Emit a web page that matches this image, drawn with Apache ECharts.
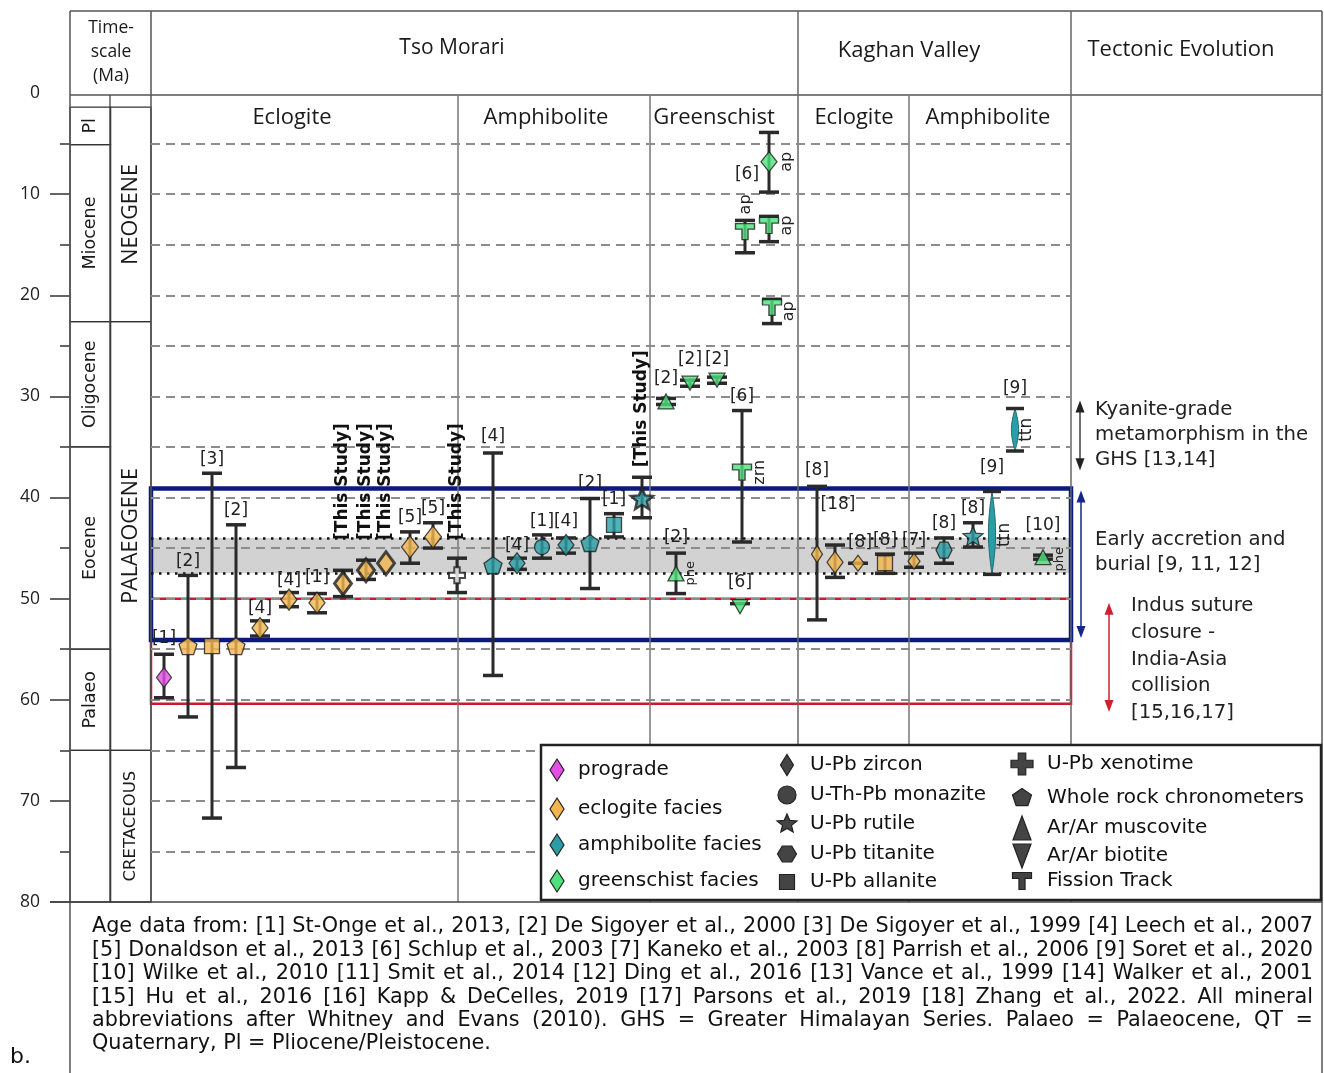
<!DOCTYPE html>
<html><head><meta charset="utf-8">
<script src="https://cdn.jsdelivr.net/npm/echarts@6/dist/echarts.min.js"></script>
<style>html,body{margin:0;padding:0;background:#fff}#c{width:1324px;height:1073px}</style>
</head><body><div id="c"></div>
<script>
// ---------------- DATA ----------------
const ageLabels = [0,10,20,30,40,50,60,70,80];
const majorTicks = [10,20,30,40,50,60,70,80];
const minorTickAges = [5,15,25,35,45,55,65,75];
const gridAges = [5,10,15,20,25,30,35,40,45,50,55,60,65,70,75];
const bandAges = [44, 47.5];          // grey band
const blueBoxAges = [39.1, 54.1];     // early accretion box
const redBoxAges = [50, 60.4];        // Indus suture box
// timescale [start Ma, end Ma, label]
const epochs = [[1.4,5.1,'Pl'],[5.1,22.6,'Miocene'],[22.6,35,'Oligocene'],[35,55,'Eocene'],[55,65,'Palaeo'],[65,80,'']];
const periods = [[1.4,22.6,'NEOGENE'],[22.6,65,'PALAEOGENE'],[65,80,'CRETACEOUS']];
// samples: [slot, age, errMin, errMax, facies, method, ref, mineral note]
const tsoEclogite = [
 [1.3, 57.8, 55.5, 59.8, 'prograde', 'zircon', '[1]'],
 [3.7, 54.7, 47.7, 61.7, 'eclogite', 'wholeRock', '[2]'],
 [6.1, 54.7, 37.6, 71.7, 'eclogite', 'allanite', '[3]'],
 [8.5, 54.7, 42.7, 66.7, 'eclogite', 'wholeRock', '[2]'],
 [10.9, 52.9, 52.2, 53.7, 'eclogite', 'zircon', '[4]'],
 [13.8, 50.1, 49.4, 50.8, 'eclogite', 'zircon', '[4]'],
 [16.6, 50.4, 49.5, 51.4, 'eclogite', 'zircon', '[1]'],
 [19.2, 48.5, 47.2, 49.8, 'eclogite', 'zircon', '[This Study]'],
 [21.5, 47.2, 46.2, 48.1, 'eclogite', 'zircon', '[This Study]'],
 [23.5, 46.5, null, null, 'eclogite', 'zircon', '[This Study]'],
 [25.9, 44.9, 43.4, 46.5, 'eclogite', 'zircon', '[5]'],
 [28.2, 43.9, 42.5, 45.0, 'eclogite', 'zircon', '[5]'],
 [30.6, 47.7, 46.0, 49.4, 'none', 'xenotime', '[This Study]']
];
const tsoAmphibolite = [
 [34.2, 46.7, 35.6, 57.6, 'amphibolite', 'wholeRock', '[4]'],
 [36.6, 46.5, 46.0, 47.1, 'amphibolite', 'zircon', '[4]'],
 [39.1, 44.9, 43.7, 46.0, 'amphibolite', 'monazite', '[1]'],
 [41.5, 44.7, 44.0, 45.5, 'amphibolite', 'zircon', '[4]'],
 [43.9, 44.5, 40.1, 49.0, 'amphibolite', 'wholeRock', '[2]'],
 [46.3, 42.7, 41.6, 43.9, 'amphibolite', 'allanite', '[1]'],
 [49.1, 40.1, 38.0, 42.0, 'amphibolite', 'rutile', '[This Study]']
];
const tsoGreenschist = [
 [51.5, 30.5, 30.2, 30.8, 'greenschist', 'muscovite', '[2]'],
 [53.9, 28.7, 28.4, 29.0, 'greenschist', 'biotite', '[2]'],
 [56.6, 28.4, 28.1, 28.7, 'greenschist', 'biotite', '[2]'],
 [59.1, 37.5, 31.4, 44.4, 'greenschist', 'fissionTrack', '[6]', 'zrn'],
 [52.5, 47.5, 45.5, 49.5, 'greenschist', 'muscovite', '[2]', 'phe'],
 [58.9, 50.8, 50.5, 50.5, 'greenschist', 'biotite', '[6]'],
 [61.8, 6.8, 3.9, 9.8, 'greenschist', 'zircon', '[6]', 'ap'],
 [59.4, 13.7, 12.6, 15.8, 'greenschist', 'fissionTrack', '', 'ap'],
 [61.8, 13.1, 12.2, 14.7, 'greenschist', 'fissionTrack', '', 'ap'],
 [62.1, 21.2, 20.4, 22.8, 'greenschist', 'fissionTrack', '', 'ap']
];
const kaghanEclogite = [
 [66.6, 45.6, 38.9, 52.1, 'eclogite', 'zircon', '[8]'],
 [68.4, 46.4, 44.7, 47.9, 'eclogite', 'zircon', '[18]'],
 [70.7, 46.5, 46.5, 46.5, 'eclogite', 'zircon', '[8]'],
 [73.4, 46.5, 45.6, 47.5, 'eclogite', 'allanite', '[8]']
];
const kaghanAmphibolite = [
 [76.3, 46.3, 45.5, 46.9, 'eclogite', 'zircon', '[7]'],
 [79.3, 45.2, 44.0, 46.5, 'amphibolite', 'titanite', '[8]'],
 [82.2, 43.8, 42.5, 44.9, 'amphibolite', 'rutile', '[8]'],
 [84.1, 43.5, 39.4, 47.6, 'amphibolite', 'titaniteRange', '[9]', 'ttn'],
 [86.4, 33.3, 31.2, 35.4, 'amphibolite', 'titaniteRange', '[9]', 'ttn'],
 [89.2, 45.9, 45.7, 46.1, 'greenschist', 'muscovite', '[10]', 'phe']
];
// tectonic events: [fromMa, toMa, lines]
const tectonicKyanite = [30.4, 37.3, ['Kyanite-grade','metamorphism in the','GHS [13,14]']];
const tectonicAccretion = [39.3, 53.9, ['Early accretion and','burial [9, 11, 12]']];
const tectonicSuture = [50.4, 61.2, ['Indus suture','closure -','India-Asia','collision','[15,16,17]']];
const legendFacies = [['prograde','prograde'],['eclogite facies','eclogite'],['amphibolite facies','amphibolite'],['greenschist facies','greenschist']];
const legendMethodsA = [['U-Pb zircon','zircon'],['U-Th-Pb monazite','monazite'],['U-Pb rutile','rutile'],['U-Pb titanite','titanite'],['U-Pb allanite','allanite']];
const legendMethodsB = [['U-Pb xenotime','xenotime'],['Whole rock chronometers','wholeRock'],['Ar/Ar muscovite','muscovite'],['Ar/Ar biotite','biotite'],['Fission Track','fissionTrack']];
const captionLines = [
 'Age data from: [1] St-Onge et al., 2013, [2] De Sigoyer et al., 2000 [3] De Sigoyer et al., 1999 [4] Leech et al., 2007',
 '[5] Donaldson et al., 2013 [6] Schlup et al., 2003 [7] Kaneko et al., 2003 [8] Parrish et al., 2006 [9] Soret et al., 2020',
 '[10] Wilke et al., 2010 [11] Smit et al., 2014 [12] Ding et al., 2016 [13] Vance et al., 1999 [14] Walker et al., 2001',
 '[15] Hu et al., 2016 [16] Kapp & DeCelles, 2019 [17] Parsons et al., 2019 [18] Zhang et al., 2022. All mineral',
 'abbreviations after Whitney and Evans (2010). GHS = Greater Himalayan Series. Palaeo = Palaeocene, QT =',
 'Quaternary, Pl = Pliocene/Pleistocene.'
];

// ---------------- STYLES ----------------
const faciesColors = {prograde:'#e64ce6', eclogite:'#f2b64d', amphibolite:'#2a9ea6', greenschist:'#4fe27c', none:'#ffffff'};
const methodShape = {zircon:'diamond', monazite:'circle', rutile:'star', titanite:'hexagon', allanite:'square', xenotime:'cross', wholeRock:'pentagon', muscovite:'triUp', biotite:'triDown', fissionTrack:'tee'};
const methodSize = {zircon:[16,21], monazite:[15,15], rutile:[20,19], titanite:[16,16], allanite:[15,15], xenotime:[16,16], wholeRock:[18,17], muscovite:[16,15], biotite:[16,14], fissionTrack:[19,16]};
const markerTweaks = {
 'tsoEclogite:0':{size:[15,20]},
 'tsoEclogite:7':{size:[17,23], border:3}, 'tsoEclogite:8':{size:[17,23], border:3}, 'tsoEclogite:9':{size:[17,23], border:3},
 'tsoEclogite:10':{size:[17,22]}, 'tsoEclogite:11':{size:[17,22]}, 'tsoEclogite:12':{border:2},
 'tsoAmphibolite:6':{size:[22,21], border:2.5},
 'tsoGreenschist:6':{size:[16,20]},
 'kaghanEclogite:0':{size:[11,17]}, 'kaghanEclogite:1':{size:[16,22]}, 'kaghanEclogite:2':{size:[12,16]}, 'kaghanAmphibolite:0':{size:[12,16]}
};
// label tweaks: base 'top' (top cap) or 'point'; dx, dy relative
const labelTweaks = {
 'tsoEclogite:0':{dy:-16}, 'tsoEclogite:4':{dy:-12}, 'tsoEclogite:5':{dy:-12}, 'tsoEclogite:6':{dy:-16},
 'tsoEclogite:7':{bottomAge:44.2}, 'tsoEclogite:8':{bottomAge:44.2}, 'tsoEclogite:9':{bottomAge:44.2}, 'tsoEclogite:12':{bottomAge:44.2},
 'tsoAmphibolite:0':{dy:-16}, 'tsoAmphibolite:1':{dy:-13}, 'tsoAmphibolite:2':{dy:-13}, 'tsoAmphibolite:3':{dy:-16}, 'tsoAmphibolite:4':{dy:-15},
 'tsoAmphibolite:6':{bottomAge:37.0},
 'tsoGreenschist:0':{dy:-20}, 'tsoGreenschist:1':{dy:-21}, 'tsoGreenschist:2':{dy:-18}, 'tsoGreenschist:5':{dy:-21},
 'tsoGreenschist:6':{base:'point', dx:-22, dy:13, noteDx:18},
 'tsoGreenschist:7':{noteBase:'top', noteDx:1, noteDy:-16},
 'tsoGreenschist:9':{noteDx:17, noteDy:4},
 'tsoGreenschist:4':{dy:-16, noteDx:15, noteSize:13},
 'kaghanEclogite:0':{dy:-16}, 'kaghanEclogite:1':{dy:-40, dx:3}, 'kaghanEclogite:2':{base:'point', dy:-21, dx:2},
 'kaghanAmphibolite:0':{dy:-13}, 'kaghanAmphibolite:3':{dy:-24, noteDx:13, noteDy:2}, 'kaghanAmphibolite:4':{dy:-20, noteDx:12},
 'kaghanAmphibolite:5':{dy:-30, noteDx:17, noteDy:2, noteSize:13}
};

// shapes in unit coords
function regular(n, start, r2){
  const pts=[]; const m = r2 ? n*2 : n;
  for(let k=0;k<m;k++){ const a=(start + k*360/m)*Math.PI/180; const r = r2 && (k%2) ? r2 : 1; pts.push([r*Math.cos(a), r*Math.sin(a)]); }
  return pts;
}
const SHAPES = {
  diamond:[[0,-1],[1,0],[0,1],[-1,0]],
  square:[[-1,-1],[1,-1],[1,1],[-1,1]],
  pentagon:regular(5,-90),
  hexagon:regular(6,0),
  star:regular(5,-90,0.45),
  triUp:[[0,-1],[1,1],[-1,1]],
  triDown:[[-1,-1],[1,-1],[0,1]],
  cross:[[-.34,-1],[.34,-1],[.34,-.34],[1,-.34],[1,.34],[.34,.34],[.34,1],[-.34,1],[-.34,.34],[-1,.34],[-1,-.34],[-.34,-.34]],
  tee:[[-1,-1],[1,-1],[1,-.3],[.32,-.3],[.32,1],[-.32,1],[-.32,-.3],[-1,-.3]]
};
function symbolOf(shape){
  if(shape==='circle') return 'circle';
  return 'path://' + SHAPES[shape].map((p,i)=>(i?'L':'M')+(p[0]*50+50).toFixed(2)+','+(p[1]*50+50).toFixed(2)).join(' ') + ' Z';
}

// ---------------- BUILD ----------------
const ALL = [];
[['tsoEclogite',tsoEclogite],['tsoAmphibolite',tsoAmphibolite],['tsoGreenschist',tsoGreenschist],['kaghanEclogite',kaghanEclogite],['kaghanAmphibolite',kaghanAmphibolite]]
 .forEach(([name, arr]) => arr.forEach((row,i) => ALL.push({key:name+':'+i, row})));

const FONT_REF = '17px "DejaVu Sans"';
const FONT_TS = 'bold 17px "DejaVu Sans"';
const INK = '#2a2a2a';

function renderSample(params, api){
  const s = ALL[params.dataIndex];
  const [slot, age, lo, hi, facies, method, ref, note] = s.row;
  const tw = labelTweaks[s.key] || {};
  const p = api.coord([slot, age]);
  const x = p[0], yP = p[1];
  const hasErr = lo != null;
  const yT = hasErr ? api.coord([slot, lo])[1] : yP;
  const yB = hasErr ? api.coord([slot, hi])[1] : yP;
  const ch = [];
  const cap = (y,w) => ({type:'line', shape:{x1:x-w/2, y1:y, x2:x+w/2, y2:y}, style:{stroke:INK, lineWidth:3.5}});
  if (hasErr){
    if (method === 'titaniteRange'){
      const pts = [];
      const N = 16, wHalf = 3.6;
      for(let k=0;k<=N;k++){ const t=k/N; pts.push([x + wHalf*Math.sin(Math.PI*t), yT + (yB-yT)*t]); }
      for(let k=N;k>=0;k--){ const t=k/N; pts.push([x - wHalf*Math.sin(Math.PI*t), yT + (yB-yT)*t]); }
      ch.push({type:'polygon', shape:{points:pts}, style:{fill:faciesColors.amphibolite, stroke:'#1f6d73', lineWidth:1}});
      ch.push(cap(yT,18)); ch.push(cap(yB,18));
    } else {
      if (yB - yT > 1) ch.push({type:'line', shape:{x1:x,y1:yT,x2:x,y2:yB}, style:{stroke:INK, lineWidth:3}});
      ch.push(cap(yT,20)); if (yB - yT > 1) ch.push(cap(yB,20));
    }
  }
  if (ref){
    if (ref === '[This Study]'){
      const yb = tw.bottomAge != null ? api.coord([slot, tw.bottomAge])[1] : yT - 8;
      ch.push({type:'text', x:x, y:yb, rotation:Math.PI/2, style:{text:ref, x:0, y:0, align:'left', verticalAlign:'middle', font:FONT_TS, fill:'#111'}});
    } else {
      const baseY = tw.base === 'point' ? yP : yT;
      ch.push({type:'text', x:x+(tw.dx||0), y:baseY+(tw.dy!=null?tw.dy:-14), style:{text:ref, x:0, y:0, align:'center', verticalAlign:'middle', font:FONT_REF, fill:'#222'}});
    }
  }
  if (note){
    const baseY = tw.noteBase === 'top' ? yT : (method==='titaniteRange' ? (yT+yB)/2 : yP);
    const size = tw.noteSize || (note==='ttn' ? 17 : 16);
    ch.push({type:'text', x:x+(tw.noteDx!=null?tw.noteDx:18), y:baseY+(tw.noteDy||0), rotation:Math.PI/2,
      style:{text:note, x:0, y:0, align:'center', verticalAlign:'middle', font:size+'px "DejaVu Sans"', fill:'#222'}});
  }
  return {type:'group', children:ch};
}

const markerData = ALL.filter(s => s.row[5] !== 'titaniteRange').map(s => {
  const [slot, age, lo, hi, facies, method] = s.row;
  const t = markerTweaks[s.key] || {};
  return {
    value:[slot, age],
    symbol: symbolOf(methodShape[method]),
    symbolSize: t.size || methodSize[method],
    itemStyle:{color:faciesColors[facies], borderColor:'#1e1e1e', borderWidth: t.border || 1.3}
  };
});

const tsData = epochs.map(e => [0, e[0], e[1]]).concat(periods.map(p => [1, p[0], p[1]]));
const tsLabels = epochs.map(e => ({text:e[2], font:'17.5px "DejaVu Sans"'})).concat(periods.map(p => ({text:p[2], font: p[2]==='CRETACEOUS' ? '16.5px "DejaVu Sans"' : '21.5px "Open Sans"'})));

const noMark = {symbol:['none','none'], silent:true, label:{show:false}, animation:false};

const option = {
  animation:false,
  backgroundColor:'#ffffff',
  grid:[{left:151, top:93, width:920, height:809}, {left:70, top:93, width:81, height:809}],
  xAxis:[{type:'value', gridIndex:0, min:0, max:92, show:false}, {type:'value', gridIndex:1, min:0, max:2, show:false}],
  yAxis:[
    {type:'value', gridIndex:0, min:0, max:80, inverse:true, show:false},
    {type:'value', gridIndex:1, min:0, max:80, interval:10, inverse:true, position:'left',
     axisLine:{show:false}, splitLine:{show:false},
     axisTick:{show:true, length:20, lineStyle:{color:'#333', width:1.5}, customValues:majorTicks},
     axisLabel:{show:true, margin:30, fontSize:17.5, fontFamily:'Open Sans', color:'#222', customValues:ageLabels}},
    {type:'value', gridIndex:1, min:0, max:80, interval:5, inverse:true, position:'left',
     axisLine:{show:false}, splitLine:{show:false}, axisLabel:{show:false},
     axisTick:{show:true, length:10, lineStyle:{color:'#333', width:1.5}, customValues:minorTickAges}}
  ],
  series:[
    {type:'line', data:[], z:1, markArea:{silent:true, itemStyle:{color:'#d2d2d2'}, data:[[{yAxis:bandAges[0]},{yAxis:bandAges[1]}]]}},
    {type:'line', data:[], z:2, markLine:Object.assign({}, noMark, {lineStyle:{color:'#8c8c8c', width:2, type:[9,6]}, data:gridAges.map(a=>({yAxis:a}))})},
    {type:'line', data:[], z:3, markLine:Object.assign({}, noMark, {lineStyle:{color:'#111', width:2.5, type:[2.5,5.5]}, data:bandAges.map(a=>({yAxis:a}))})},
    {type:'line', data:[], z:4, markArea:{silent:true, itemStyle:{color:'rgba(0,0,0,0)', borderColor:'#cc1a2e', borderWidth:2.5}, data:[[{yAxis:redBoxAges[0]},{yAxis:redBoxAges[1]}]]}},
    {type:'line', data:[], z:5, markArea:{silent:true, itemStyle:{color:'rgba(0,0,0,0)', borderColor:'#0c1a80', borderWidth:4.5}, data:[[{yAxis:blueBoxAges[0]},{yAxis:blueBoxAges[1]}]]}},
    {type:'custom', z:6, clip:false, xAxisIndex:0, yAxisIndex:0, renderItem:renderSample, data:ALL.map(s=>[s.row[0], s.row[1]])},
    {type:'scatter', z:7, xAxisIndex:0, yAxisIndex:0, data:markerData, silent:true},
    {type:'custom', z:3, clip:false, xAxisIndex:1, yAxisIndex:1, data:tsData, renderItem:function(params, api){
      const l = tsLabels[params.dataIndex];
      const p0 = api.coord([api.value(0), api.value(1)]);
      const p1 = api.coord([api.value(0)+1, api.value(2)]);
      return {type:'group', children:[
        {type:'rect', shape:{x:p0[0], y:p0[1], width:p1[0]-p0[0], height:p1[1]-p0[1]}, style:{fill:'none', stroke:'#333', lineWidth:1.3}},
        {type:'text', x:(p0[0]+p1[0])/2, y:(p0[1]+p1[1])/2, rotation:Math.PI/2, style:{text:l.text, x:0, y:0, align:'center', verticalAlign:'middle', font:l.font, fill:'#1a1a1a'}}
      ]};
    }}
  ]
};

const chart = echarts.init(document.getElementById('c'), null, {width:1324, height:1073});
chart.setOption(option);

// ---------------- GRAPHIC (table, legend, annotations, caption) ----------------
const G = [];
const L = (x1,y1,x2,y2,stroke,w,z) => G.push({type:'line', shape:{x1,y1,x2,y2}, style:{stroke:stroke||'#555', lineWidth:w||1.5}, z:z||3, silent:true});
const T = (x,y,text,font,align,z,fill) => G.push({type:'text', x, y, style:{text, font, fill:fill||'#1a1a1a', align:align||'center', verticalAlign:'middle'}, z:z||10, silent:true});

// table frame
L(70,11,1322,11,'#555',1.5); L(70,11,70,1073,'#555',1.5); L(1322,11,1322,1073,'#555',1.5);
L(70,95,1322,95,'#555',1.5);
L(151,11,151,902,'#555',1.5); L(110,95,110,902,'#444',1.3);
L(798,11,798,902,'#666',1.5); L(1071,11,1071,902,'#666',1.5);
[458,650,909].forEach(x => L(x,95,x,902,'#777',1.5));
L(50,902,1322,902,'#444',1.5);
// headers
const HF = '22px "Open Sans"';
T(111,28,'Time-','17.5px "Open Sans"'); T(111,52,'scale','17.5px "Open Sans"'); T(111,76,'(Ma)','17.5px "Open Sans"');
T(452,48,'Tso Morari','21px "Open Sans"'); T(909,51,'Kaghan Valley',HF); T(1181,50,'Tectonic Evolution',HF);
[[292,'Eclogite'],[546,'Amphibolite'],[714,'Greenschist'],[854,'Eclogite'],[988,'Amphibolite']].forEach(([x,t]) => T(x,118,t,'22px "Open Sans"'));

// tectonic annotations (positions from the age axis)
const yOf = a => chart.convertToPixel({yAxisIndex:0}, a);
function dblArrow(x, a0, a1, color, w){
  const y0 = yOf(a0), y1 = yOf(a1);
  L(x, y0+6, x, y1-6, color, w||1.5, 12);
  G.push({type:'polygon', shape:{points:[[x,y0],[x-4.5,y0+12],[x+4.5,y0+12]]}, style:{fill:color}, z:12});
  G.push({type:'polygon', shape:{points:[[x,y1],[x-4.5,y1-12],[x+4.5,y1-12]]}, style:{fill:color}, z:12});
}
dblArrow(1080, tectonicKyanite[0], tectonicKyanite[1], '#222', 1.3);
dblArrow(1081, tectonicAccretion[0], tectonicAccretion[1], '#16258a', 1.5);
dblArrow(1109, tectonicSuture[0], tectonicSuture[1], '#d0202e', 1.5);
const AF = '19.7px "DejaVu Sans"';
tectonicKyanite[2].forEach((t,i) => T(1095, 410+i*25, t, AF, 'left', 12, '#222'));
tectonicAccretion[2].forEach((t,i) => T(1095, 540+i*25, t, AF, 'left', 12, '#222'));
tectonicSuture[2].forEach((t,i) => T(1131, 606+i*26.7, t, AF, 'left', 12, '#222'));

// legend
G.push({type:'rect', shape:{x:541, y:745, width:780, height:155}, style:{fill:'#fff', stroke:'#222', lineWidth:2.5}, z:100});
function legendMarker(shape, cx, cy, w, h, fill){
  if (shape === 'circle') { G.push({type:'circle', shape:{cx, cy, r:w/2}, style:{fill, stroke:'#222', lineWidth:1.2}, z:101}); return; }
  G.push({type:'polygon', shape:{points:SHAPES[shape].map(p=>[cx+p[0]*w/2, cy+p[1]*h/2])}, style:{fill, stroke:'#222', lineWidth:1.2}, z:101});
}
const LF = '20px "DejaVu Sans"';
const lf1Y = [770,809,845,881];
legendFacies.forEach(([t,f],i) => { legendMarker('diamond',557,lf1Y[i],14,22,faciesColors[f]); T(578,lf1Y[i],t,'20px "DejaVu Sans"','left',101,'#111'); });
const lf2Y = [765,795,824,854,882];
const lf2S = {zircon:[13,21], monazite:[18,18], rutile:[21,20], titanite:[19,18], allanite:[15,15]};
legendMethodsA.forEach(([t,m],i) => { const s = lf2S[m]; legendMarker(methodShape[m],787,lf2Y[i],s[0],s[1],'#444'); T(810,lf2Y[i],t,LF,'left',101,'#111'); });
const lf3Y = [764,798,828,856,881];
const lf3S = {xenotime:[22,22], wholeRock:[20,19], muscovite:[18,24], biotite:[18,24], fissionTrack:[19,17]};
legendMethodsB.forEach(([t,m],i) => { const s = lf3S[m]; legendMarker(methodShape[m],1022,lf3Y[i],s[0],s[1],'#444'); T(1047,lf3Y[i],t,LF,'left',101,'#111'); });

// caption (justified)
const ctx = document.createElement('canvas').getContext('2d');
const measure = (t,f) => { ctx.font = f; return ctx.measureText(t).width; };
const capLeft = 92, capRight = 1313;
let capSize = 21;
while (capSize > 14 && Math.max(...captionLines.slice(0,-1).map(l => measure(l, capSize+'px "DejaVu Sans"'))) > capRight-capLeft) capSize -= 0.25;
const CF = capSize+'px "DejaVu Sans"';
captionLines.forEach((line,i) => {
  const y = 927 + i*23.4;
  if (i === captionLines.length-1) { T(capLeft, y, line, CF, 'left', 10, '#111'); return; }
  const words = line.split(' ');
  const ws = words.map(w => measure(w, CF));
  const gap = (capRight-capLeft - ws.reduce((a,b)=>a+b,0)) / (words.length-1);
  let x = capLeft;
  words.forEach((w,j) => { T(x, y, w, CF, 'left', 10, '#111'); x += ws[j] + gap; });
});
T(10,1057,'b.','22px "DejaVu Sans"','left',10,'#111');

chart.setOption({graphic:{elements:G}});
</script>
</body></html>
